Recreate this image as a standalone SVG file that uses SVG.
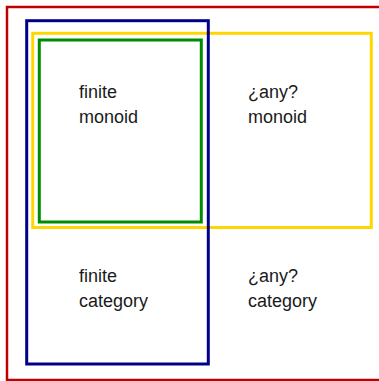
<svg xmlns="http://www.w3.org/2000/svg" width="379" height="381" viewBox="0 0 379 381">
<style>
.box{fill:none}
.lbl{font-family:"Liberation Sans",Arial,Helvetica,sans-serif;font-size:18px;fill:#1a1a1a}
</style>
<rect width="379" height="381" fill="#fff"/>
<g id="outer"><rect class="box" x="7" y="7" width="380" height="373" stroke="#c00000" stroke-width="2.5"/></g>
<g id="monoid"><rect class="box" x="32.7" y="33.3" width="338.6" height="194.2" stroke="#ffd700" stroke-width="3"/></g>
<g id="finite-monoid-box"><rect class="box" x="39.3" y="40" width="162" height="182" stroke="#008c00" stroke-width="3"/></g>
<g id="finite"><rect class="box" x="26.7" y="20.7" width="181.6" height="343.3" stroke="#00008b" stroke-width="3"/></g>
<g id="labels">
<g id="l1"><text class="lbl" x="79" y="98.3">finite</text><text class="lbl" x="79" y="123.3">monoid</text></g>
<g id="l2"><text class="lbl" x="248" y="98.3">¿any?</text><text class="lbl" x="248" y="123.3">monoid</text></g>
<g id="l3"><text class="lbl" x="79" y="281.5">finite</text><text class="lbl" x="79" y="306.5">category</text></g>
<g id="l4"><text class="lbl" x="248" y="281.5">¿any?</text><text class="lbl" x="248" y="306.5">category</text></g>
</g>
</svg>
